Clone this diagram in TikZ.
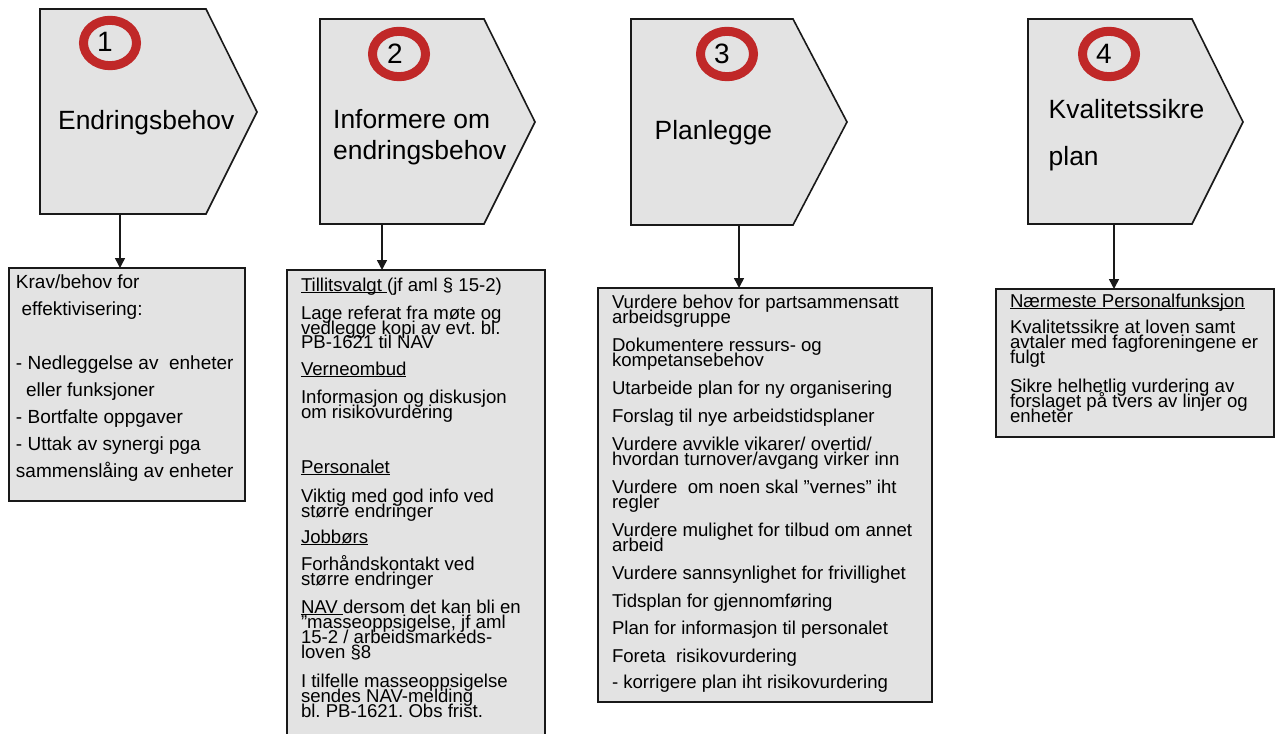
\documentclass[tikz,border=0pt]{standalone}
\usepackage{fontspec}
\setmainfont{Liberation Sans}
\usetikzlibrary{arrows.meta}
\definecolor{fillg}{RGB}{227,227,227}
\definecolor{ringred}{RGB}{192,40,40}
\definecolor{edge}{RGB}{25,25,25}
\frenchspacing
\newcommand{\ulw}[1]{\setbox0=\hbox{#1}\rlap{\rule[-2.3pt]{\wd0}{1.4pt}}\box0}
\newcommand{\txl}[4]{\node[bt] (#1) at (#2,#3) {#4};}
\newcommand{\txa}[4]{\node[bta] (#1) at (#2,#3) {#4};}
\begin{document}
\begin{tikzpicture}[x=1pt,y=-1pt,
  pent/.style={draw=edge,line width=1.6pt,fill=fillg,line join=miter},
  box/.style={draw=edge,line width=1.5pt,fill=fillg,inner sep=0pt,outer sep=0pt,anchor=north west},
  ring/.style={draw=ringred,line width=9pt},
  digit/.style={anchor=base,inner sep=0pt,font=\fontsize{28}{30}\selectfont},
  head/.style={anchor=base west,inner sep=0pt,font=\fontsize{26.4}{30}\selectfont},
  bt/.style={anchor=base west,inner sep=0pt,outer sep=0pt,font=\fontsize{18.6}{15}\selectfont\frenchspacing},
  bta/.style={anchor=base west,inner sep=0pt,outer sep=0pt,font=\fontsize{19}{15}\selectfont\frenchspacing},
  arr/.style={draw=edge,line width=1.5pt,-{Triangle[width=10pt,length=10pt]}}]
\useasboundingbox (0,0) rectangle (1276,733);
\clip (0,0) rectangle (1276,733);

% ---------- pentagons ----------
\draw[pent] (40,9) -- (206,9) -- (257,112) -- (206,214) -- (40,214) -- cycle;
\draw[pent] (320,19) -- (484,19) -- (535,122) -- (484,224) -- (320,224) -- cycle;
\draw[pent] (631,19) -- (793,19) -- (847,122) -- (793,225) -- (631,225) -- cycle;
\draw[pent] (1028,19) -- (1192,19) -- (1243,122) -- (1192,224) -- (1028,224) -- cycle;

% rings and numbers
\draw[ring] (110,43) ellipse [x radius=26.5pt, y radius=22.7pt];
\draw[ring] (399,54) ellipse [x radius=26.5pt, y radius=22.7pt];
\draw[ring] (727,54) ellipse [x radius=26.5pt, y radius=22.7pt];
\draw[ring] (1109,54) ellipse [x radius=26.5pt, y radius=22.7pt];
\node[digit] (n1) at (105,51.7) {1};
\node[digit] (n2) at (395,63.3) {2};
\node[digit] (n3) at (722,63.3) {3};
\node[digit] (n4) at (1104,63.3) {4};

% header labels
\node[head] (h1) at (58,129) {Endringsbehov};
\node[head] (h2a) at (333,128.3) {Informere om};
\node[head] (h2b) at (333,159) {endringsbehov};
\node[head] (h3) at (654.5,139.3) {Planlegge};
\node[head] (h4a) at (1048.5,119) {Kvalitetssikre};
\node[head] (h4b) at (1048.5,165.7) {plan};

% arrow start points (bottom of pentagons)
\coordinate (a1) at (120,214);
\coordinate (a2) at (382,224);
\coordinate (a3) at (739,225);
\coordinate (a4) at (1114,224);

% ---------- boxes ----------
\node[box,minimum width=236pt,minimum height=233pt] (b1) at (9,268) {};
\node[box,minimum width=258pt,minimum height=475pt] (b2) at (287,270) {};
\node[box,minimum width=334pt,minimum height=414pt] (b3) at (598,288) {};
\node[box,minimum width=278pt,minimum height=148pt] (b4) at (996,289) {};

% connectors
\draw[arr] (a1) -- (a1 |- b1.north);
\draw[arr] (a2) -- (a2 |- b2.north);
\draw[arr] (a3) -- (a3 |- b3.north);
\draw[arr] (a4) -- (a4 |- b4.north);

% ---------- box 1 text ----------
\txa{t11}{16}{288}{Krav/behov for}
\txa{t12}{21.5}{315}{effektivisering:}
\txa{t13}{16}{369}{- Nedleggelse av\ \ enheter}
\txa{t14}{26}{396}{eller funksjoner}
\txa{t15}{16}{423}{- Bortfalte oppgaver}
\txa{t16}{16}{450}{- Uttak av synergi pga}
\txa{t17}{16}{477}{sammenslåing av enheter}

% ---------- box 2 text ----------
\txl{t21}{301}{291}{\ulw{Tillitsvalgt } (jf aml § 15-2)}
\txl{t22}{301}{319}{Lage referat fra møte og}
\txl{t23}{301}{334}{vedlegge kopi av evt. bl.}
\txl{t24}{301}{348}{PB-1621 til NAV}
\txl{t25}{301}{375}{\ulw{Verneombud}}
\txl{t26}{301}{403}{Informasjon og diskusjon}
\txl{t27}{301}{418}{om risikovurdering}
\txl{t28}{301}{473}{\ulw{Personalet}}
\txl{t29}{301}{502}{Viktig med god info ved}
\txl{t210}{301}{517}{større endringer}
\txl{t211}{301}{543}{\ulw{Jobbørs}}
\txl{t212}{301}{570}{Forhåndskontakt ved}
\txl{t213}{301}{585}{større endringer}
\txl{t214}{301}{613}{\ulw{NAV } dersom det kan bli en}
\txl{t215}{301}{628}{”masseoppsigelse, jf aml}
\txl{t216}{301}{643}{15-2 / arbeidsmarkeds-}
\txl{t217}{301}{658}{loven §8}
\txl{t218}{301}{687}{I tilfelle masseoppsigelse}
\txl{t219}{301}{702}{sendes NAV-melding}
\txl{t220}{301}{717}{bl. PB-1621. Obs frist.}

% ---------- box 3 text ----------
\txl{t31}{612}{308}{Vurdere behov for partsammensatt}
\txl{t32}{612}{323}{arbeidsgruppe}
\txl{t33}{612}{351}{Dokumentere ressurs- og}
\txl{t34}{612}{366}{kompetansebehov}
\txl{t35}{612}{394}{Utarbeide plan for ny organisering}
\txl{t36}{612}{422}{Forslag til nye arbeidstidsplaner}
\txl{t37}{612}{450}{Vurdere avvikle vikarer/ overtid/}
\txl{t38}{612}{465}{hvordan turnover/avgang virker inn}
\txl{t39}{612}{493}{Vurdere\ \ om noen skal ”vernes” iht}
\txl{t310}{612}{508}{regler}
\txl{t311}{612}{536}{Vurdere mulighet for tilbud om annet}
\txl{t312}{612}{551}{arbeid}
\txl{t313}{612}{579}{Vurdere sannsynlighet for frivillighet}
\txl{t314}{612}{607}{Tidsplan for gjennomføring}
\txl{t315}{612}{634}{Plan for informasjon til personalet}
\txl{t316}{612}{662}{Foreta\ \ risikovurdering}
\txl{t317}{612}{688}{- korrigere plan iht risikovurdering}

% ---------- box 4 text ----------
\txl{t41}{1010}{307}{\ulw{Nærmeste Personalfunksjon}}
\txl{t42}{1010}{333}{Kvalitetssikre at loven samt}
\txl{t43}{1010}{348}{avtaler med fagforeningene er}
\txl{t44}{1010}{363}{fulgt}
\txl{t45}{1010}{392}{Sikre helhetlig vurdering av}
\txl{t46}{1010}{407}{forslaget på tvers av linjer og}
\txl{t47}{1010}{422}{enheter}
\end{tikzpicture}
\end{document}
